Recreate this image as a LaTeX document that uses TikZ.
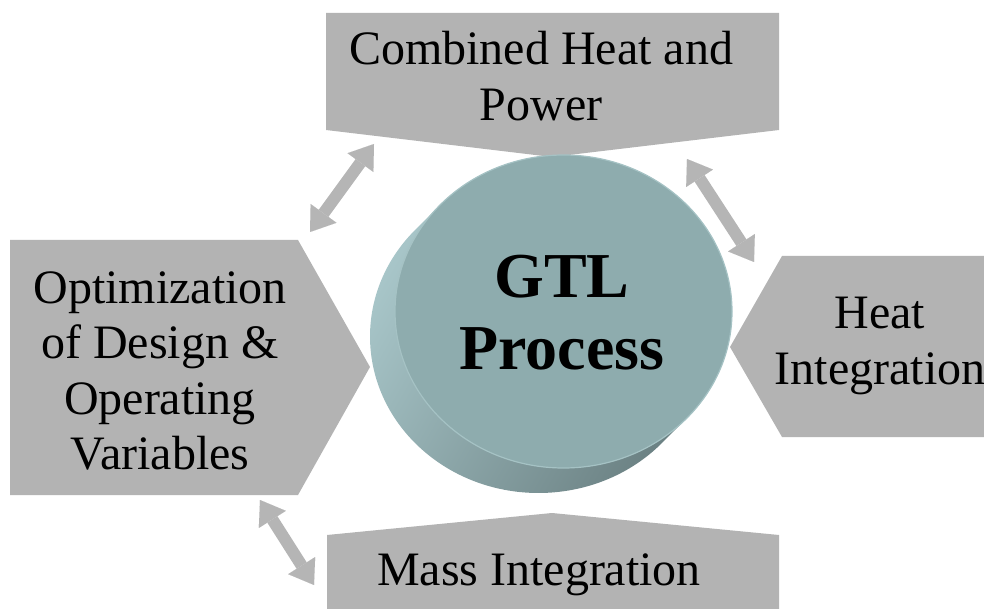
\documentclass[tikz,border=0pt]{standalone}
\usepackage{fontspec}
\setmainfont{Liberation Serif}
\usetikzlibrary{arrows.meta,calc}
\definecolor{boxgray}{RGB}{179,179,179}
\definecolor{arrgray}{RGB}{181,181,181}
\definecolor{facecol}{RGB}{142,172,174}
\definecolor{sidelight}{RGB}{168,198,201}
\definecolor{sidedark}{RGB}{108,130,132}
\definecolor{rimcol}{RGB}{165,194,196}
\begin{document}
\begin{tikzpicture}[x=1pt,y=-1pt,
  box/.style={fill=boxgray},
  lbl/.style={font=\fontsize{48}{55.5}\selectfont, align=center, inner sep=0pt},
  tiplbl/.style={font=\bfseries\fontsize{64}{72}\selectfont, align=center, inner sep=0pt},
  dblarrow/.style={draw=arrgray, line width=12pt,
    {Triangle[length=23pt,width=32pt,line width=0.01pt]}-{Triangle[length=23pt,width=32pt,line width=0.01pt]}}
]
\useasboundingbox (0,0) rectangle (984,609);
\clip (0,0) rectangle (984,609);

% boxes
\fill[box] (326,13) -- (779,13) -- (779,130) -- (552,157) -- (326,130) -- cycle;
\fill[box] (10,240) -- (298,240) -- (370,367) -- (298,495) -- (10,495) -- cycle;
\fill[box] (782,256) -- (995,256) -- (995,437) -- (782,437) -- (730,347) -- cycle;
\fill[box] (327,535) -- (552,513) -- (779,535) -- (779,620) -- (327,620) -- cycle;

% cylinder
\coordinate (fc) at (563.5,311.5);
\coordinate (bc) at (538.5,336.5);
\shade[left color=sidelight, right color=sidedark, shading angle=60]
  ([shift={(fc)}]222.9:168.5 and 156.5) -- ([shift={(bc)}]222.9:168.5 and 156.5)
  arc[start angle=222.9, end angle=42.9, x radius=168.5, y radius=156.5]
  -- ([shift={(fc)}]42.9:168.5 and 156.5)
  arc[start angle=42.9, end angle=222.9, x radius=168.5, y radius=156.5] -- cycle;
\filldraw[fill=facecol, draw=rimcol, line width=1.2pt] (fc) ellipse[x radius=168.5, y radius=156.5];

% labels
\node[lbl] (chp) at (541,76) {Combined Heat and\\Power};
\node[lbl] (opt) at (160,371) {Optimization\\of Design \&\\Operating\\Variables};
\node[lbl] (hi) at (880,346) {Heat\\Integration};
\node[lbl] (mi) at (539,575) {Mass Integration};
\node[tiplbl] (gtl) at (562,313) {GTL\\Process};

% arrows
\coordinate (a1s) at (310,232);
\coordinate (a1e) at (374,144);
\coordinate (a2s) at (687,159);
\coordinate (a2e) at (754,262);
\coordinate (a3s) at (260,500);
\coordinate (a3e) at (314,585);
\draw[dblarrow] (a1s) -- (a1e);
\draw[dblarrow] (a2s) -- (a2e);
\draw[dblarrow] (a3s) -- (a3e);
\end{tikzpicture}
\end{document}
